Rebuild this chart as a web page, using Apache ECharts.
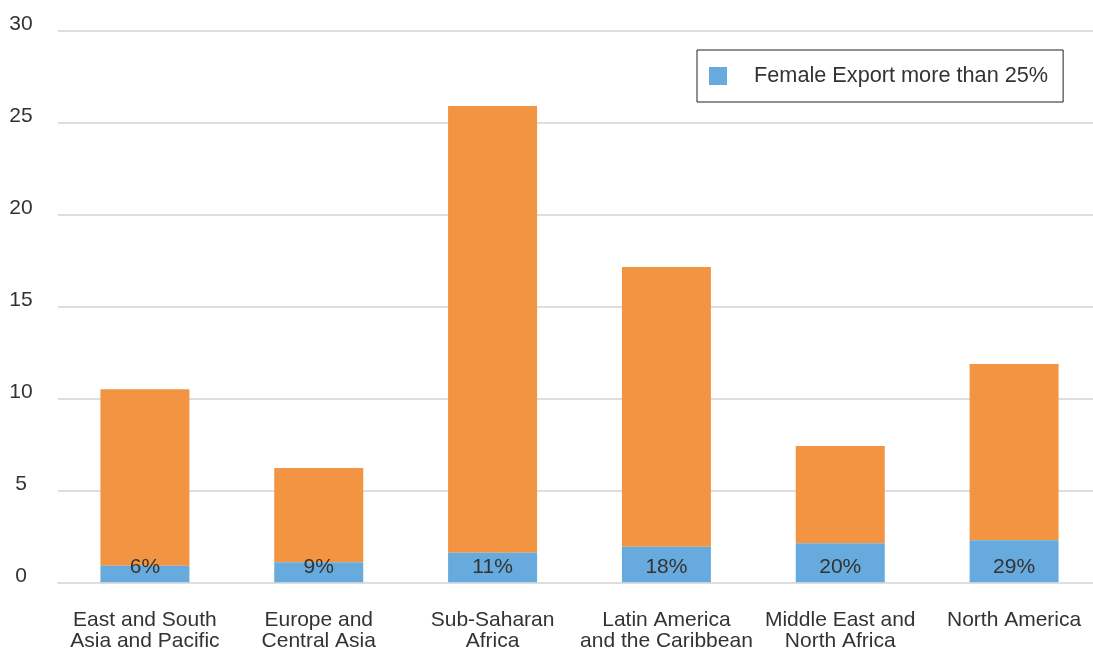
<!DOCTYPE html>
<html>
<head>
<meta charset="utf-8">
<script src="https://cdn.jsdelivr.net/npm/echarts@6/dist/echarts.min.js"></script>
<style>html,body{margin:0;padding:0;background:#fff;}#c{width:1093px;height:654px;}</style>
</head>
<body>
<div id="c"></div>
<script>
var categories = ['East and South\nAsia and Pacific', 'Europe and\nCentral Asia', 'Sub-Saharan\nAfrica', 'Latin America\nand the Caribbean', 'Middle East and\nNorth Africa', 'North America'];
var femaleExport = [0.90, 1.09, 1.61, 1.93, 2.12, 2.28];
var remainder = [9.59, 5.12, 24.28, 15.21, 5.29, 9.58];
var barLabels = ['6%', '9%', '11%', '18%', '20%', '29%'];
var yTicks = [0, 5, 10, 15, 20, 25, 30];

var font = 'Liberation Sans';
var chart = echarts.init(document.getElementById('c'), null, {renderer: 'canvas'});
chart.setOption({
  animation: false,
  backgroundColor: '#fff',
  textStyle: {fontFamily: font},
  grid: {left: 58, width: 1043, top: 30.3, height: 552, containLabel: false, outerBoundsMode: 'none'},
  legend: {
    data: ['Female Export more than 25%'],
    left: 697, top: 50,
    orient: 'horizontal',
    borderColor: '#222', borderWidth: 1,
    padding: [15, 15, 15, 12],
    itemWidth: 18, itemHeight: 18,
    icon: 'rect',
    textStyle: {fontFamily: font, fontSize: 21.7, color: '#333', padding: [0, 0, 0, 22]}
  },
  xAxis: {
    type: 'category',
    data: categories,
    axisLine: {show: true, lineStyle: {color: '#DEDEDE', width: 2}},
    axisTick: {show: false},
    axisLabel: {fontFamily: font, fontSize: 21, color: '#333', margin: 27, lineHeight: 21, interval: 0}
  },
  yAxis: {
    type: 'value',
    min: 0, max: 30, interval: 5,
    axisLine: {show: false},
    axisTick: {show: false},
    splitLine: {lineStyle: {color: '#DEDEDE', width: 2}},
    axisLabel: {
      fontFamily: font, fontSize: 21, color: '#333', align: 'center', margin: 37,
      verticalAlign: 'bottom', lineHeight: 12,
      formatter: function (v) { return yTicks.indexOf(v) >= 0 ? String(v) : ''; }
    }
  },
  series: [
    {
      name: 'Female Export more than 25%',
      type: 'bar', stack: 'total', barWidth: 89,
      itemStyle: {color: '#67AADD'},
      label: {
        show: true, position: 'insideBottom', distance: 5,
        fontFamily: font, fontSize: 21, color: '#333',
        formatter: function (p) { return barLabels[p.dataIndex]; }
      },
      z: 3,
      data: femaleExport
    },
    {
      name: 'Other',
      type: 'bar', stack: 'total', barWidth: 89,
      itemStyle: {color: '#F29441'},
      z: 2,
      data: remainder
    }
  ]
});
</script>
</body>
</html>
